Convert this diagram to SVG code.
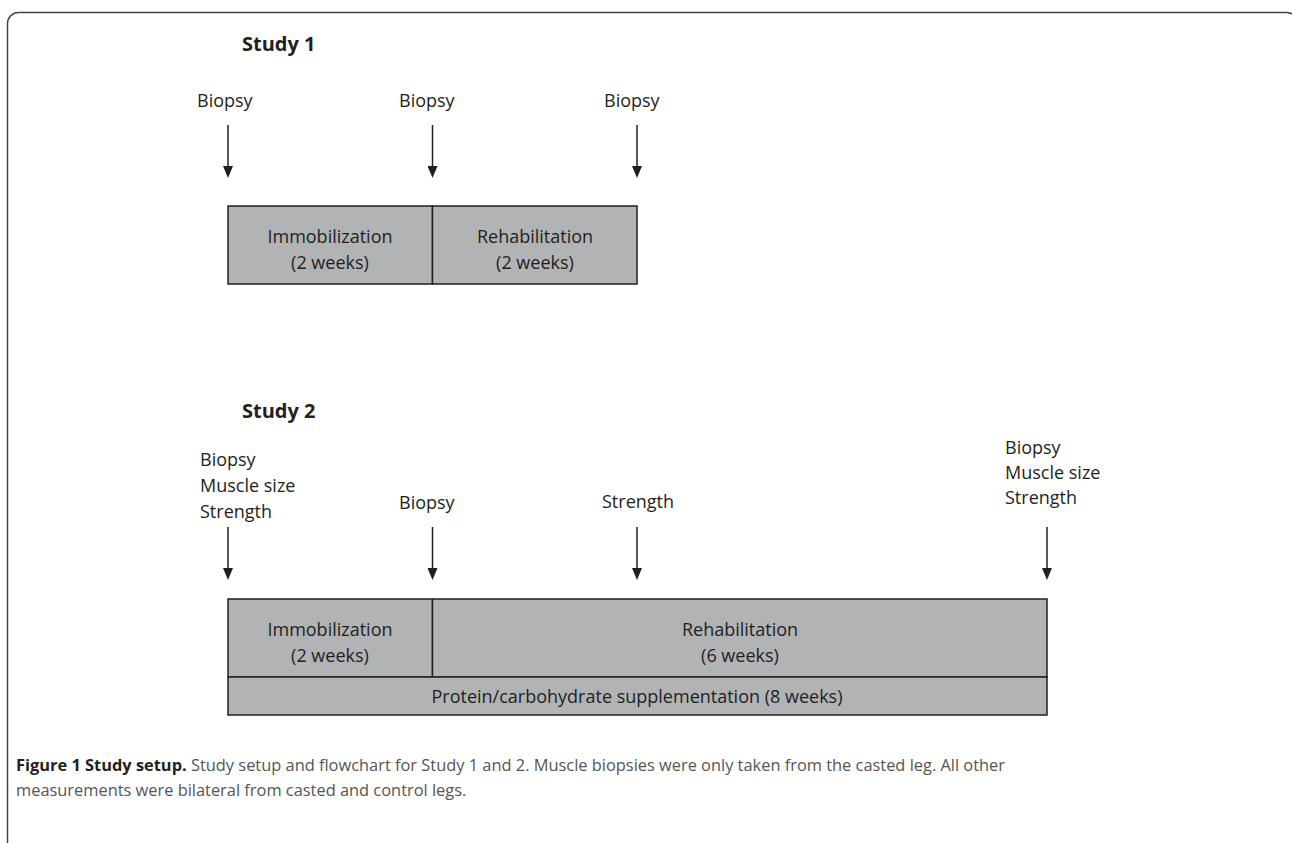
<svg xmlns="http://www.w3.org/2000/svg" width="1292" height="843" viewBox="0 0 1292 843">
<style>
.t{font-family:"Open Sans","Liberation Sans",sans-serif;font-size:18px;fill:#231f20}
.c{text-anchor:middle}
.h{font-family:"Open Sans","Liberation Sans",sans-serif;font-size:20px;font-weight:bold;fill:#231f20}
.box{fill:#b2b3b5;stroke:#231f20;stroke-width:1.5}
.arr{stroke:#231f20;stroke-width:1.5;fill:none;marker-end:url(#ah)}
.cap{font-family:"Open Sans","Liberation Sans",sans-serif;font-size:16.4px;fill:#555}
.capb{font-weight:bold;fill:#231f20}
</style>
<defs>
<marker id="ah" markerUnits="userSpaceOnUse" markerWidth="12" markerHeight="10" viewBox="0 0 12 10" refX="0" refY="5" orient="auto">
<path d="M0,0 L12,5 L0,10 Z" fill="#231f20"/>
</marker>
</defs>
<rect width="1292" height="843" fill="#fff"/>
<rect x="7.5" y="12.5" width="1290" height="900" rx="11" fill="none" stroke="#444" stroke-width="1.5"/>

<g id="study1">
<text class="h" x="242" y="51">Study 1</text>
<g id="s1-labels">
<text class="t" x="197" y="107">Biopsy</text>
<text class="t" x="399" y="107">Biopsy</text>
<text class="t" x="604" y="107">Biopsy</text>
</g>
<g id="s1-immob"><rect class="box" x="228" y="206" width="204.5" height="78"/>
<text class="t c" x="330" y="243">Immobilization</text><text class="t c" x="330" y="269">(2 weeks)</text></g>
<g id="s1-rehab"><rect class="box" x="432.5" y="206" width="204.5" height="78"/>
<text class="t c" x="535" y="243">Rehabilitation</text><text class="t c" x="535" y="269">(2 weeks)</text></g>
</g>

<g id="study2">
<text class="h" x="242" y="418">Study 2</text>
<g id="s2-labels">
<text class="t" x="200" y="466">Biopsy</text>
<text class="t" x="200" y="492">Muscle size</text>
<text class="t" x="200" y="518">Strength</text>
<text class="t" x="399" y="509">Biopsy</text>
<text class="t" x="602" y="508">Strength</text>
<text class="t" x="1005" y="454">Biopsy</text>
<text class="t" x="1005" y="479">Muscle size</text>
<text class="t" x="1005" y="504">Strength</text>
</g>
<g id="s2-immob"><rect class="box" x="228" y="599" width="204.5" height="78"/>
<text class="t c" x="330" y="636">Immobilization</text><text class="t c" x="330" y="662">(2 weeks)</text></g>
<g id="s2-rehab"><rect class="box" x="432.5" y="599" width="614.5" height="78"/>
<text class="t c" x="740" y="636">Rehabilitation</text><text class="t c" x="740" y="662">(6 weeks)</text></g>
<g id="s2-supp"><rect class="box" x="228" y="677" width="819" height="38"/>
<text class="t c" x="637" y="703">Protein/carbohydrate supplementation (8 weeks)</text></g>
</g>

<g id="connectors">
<path class="arr" d="M228,125 V166"/>
<path class="arr" d="M432.5,125 V166"/>
<path class="arr" d="M637,125 V166"/>
<path class="arr" d="M228,527 V568"/>
<path class="arr" d="M432.5,527 V568"/>
<path class="arr" d="M637,527 V568"/>
<path class="arr" d="M1047,527 V568"/>
</g>

<g id="caption">
<text class="cap" x="16" y="771"><tspan class="capb">Figure 1 Study setup.</tspan> Study setup and flowchart for Study 1 and 2. Muscle biopsies were only taken from the casted leg. All other</text>
<text class="cap" x="16" y="796">measurements were bilateral from casted and control legs.</text>
</g>
</svg>
